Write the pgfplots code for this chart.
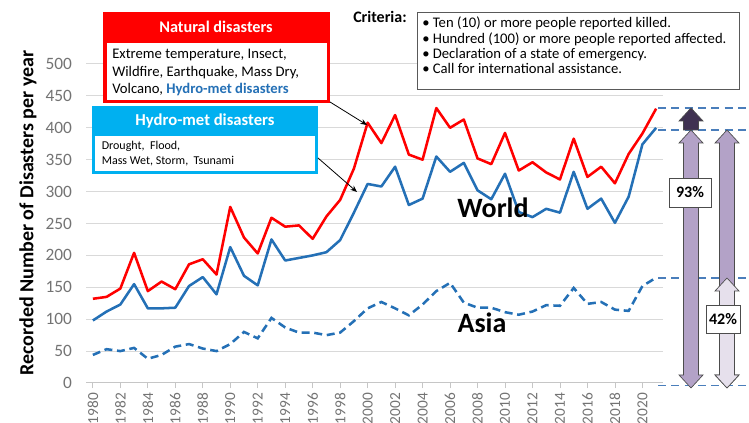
\documentclass[border=0pt]{standalone}
\usepackage{pgfplots}
\pgfplotsset{compat=1.18}
\usepackage{pgfplotstable}
\usepackage{fontspec}
\setmainfont{Carlito}
\usetikzlibrary{arrows.meta}

\definecolor{natred}{HTML}{FF0000}
\definecolor{hydblue}{HTML}{2470B6}
\definecolor{cyanhd}{HTML}{00B0F0}
\definecolor{tickgray}{HTML}{737373}
\definecolor{gridgray}{HTML}{D9D9D9}
\definecolor{purp}{HTML}{B3A2C7}
\definecolor{darkpurp}{HTML}{3F3151}
\definecolor{palepurp}{HTML}{E6E0EC}
\definecolor{dashblue}{HTML}{4A7EBB}

% recorded disasters per year: natural (world), hydro-met (world), hydro-met (asia)
\pgfplotstableread{
year natural hydro asia
1980 132  98  44
1981 135 112  53
1982 148 123  50
1983 204 155  55
1984 144 117  38
1985 159 117  44
1986 147 118  57
1987 186 152  61
1988 194 166  54
1989 170 139  50
1990 276 213  61
1991 228 168  80
1992 203 153  70
1993 259 225 102
1994 245 192  87
1995 247 196  79
1996 226 200  79
1997 261 205  75
1998 287 224  79
1999 336 267  97
2000 408 312 117
2001 376 308 127
2002 420 339 117
2003 358 279 106
2004 350 289 123
2005 431 355 144
2006 400 331 157
2007 413 345 126
2008 352 302 118
2009 343 288 118
2010 392 328 111
2011 333 268 107
2012 346 260 112
2013 330 273 122
2014 319 267 121
2015 383 331 149
2016 323 273 124
2017 339 289 127
2018 313 251 115
2019 359 292 113
2020 391 374 152
2021 430 400 165
}\disasters

% block double arrow, pixel units: x, top tip, bottom tip, fill
\newcommand{\dblarrow}[4]{%
  \filldraw[fill=#4, draw=gray!60!black, line width=0.5pt]
    (#1,#2) -- (#1+12,#2+13) -- (#1+7.5,#2+13) -- (#1+7.5,#3-13) -- (#1+12,#3-13)
    -- (#1,#3) -- (#1-12,#3-13) -- (#1-7.5,#3-13) -- (#1-7.5,#2+13) -- (#1-12,#2+13) -- cycle;}

\begin{document}
\begin{tikzpicture}
\useasboundingbox (0,0) rectangle (561.75pt,317.25pt);
\begin{axis}[
    at={(64.5pt,30pt)}, anchor=south west,
    scale only axis, width=432.75pt, height=239.25pt,
    xmin=1979.5, xmax=2021.5, ymin=0, ymax=500,
    xtick={1980,1982,...,2020},
    minor x tick num=3,
    ytick={0,50,...,500},
    axis x line*=bottom, axis y line*=left,
    y axis line style={draw=none},
    x axis line style={draw=gray!45, line width=0.75pt},
    ymajorgrids, grid style={draw=gridgray, line width=0.75pt},
    ytick style={draw=none},
    xtick style={draw=gray!45, line width=0.6pt},
    tick align=outside,
    major tick length=4pt, minor tick length=4pt,
    yticklabel style={font=\fontsize{13}{15}\selectfont, text=tickgray, xshift=-3pt},
    xticklabel style={font=\fontsize{11.5}{13}\selectfont, text=tickgray, rotate=90, anchor=east},
    /pgf/number format/1000 sep={},
    /pgf/number format/assume math mode=true,
    no markers, clip=false,
]
\addplot[natred, line width=1.9pt, line join=round] table[x=year, y=natural] {\disasters};
\addplot[hydblue, line width=1.9pt, line join=round] table[x=year, y=hydro] {\disasters};
\addplot[hydblue, line width=1.9pt, dash pattern=on 6pt off 3.5pt] table[x=year, y=asia] {\disasters};
\end{axis}

\begin{scope}[x=0.75pt, y=-0.75pt, shift={(0pt,317.25pt)}]
  % y label
  \node[rotate=90, font=\bfseries\fontsize{15}{17}\selectfont] at (28,213) {Recorded Number of Disasters per year};

  % series labels
  \node[font=\bfseries\fontsize{21}{24}\selectfont] at (493,208) {World};
  \node[font=\bfseries\fontsize{21}{24}\selectfont] at (482,323) {Asia};

  % natural disasters box
  \fill[natred] (103,12) rectangle (330,103);
  \fill[white] (107,43) rectangle (327,100.5);
  \node[font=\bfseries\fontsize{12.2}{14}\selectfont, text=white] at (216,27) {Natural disasters};
  \begin{scope}[every node/.style={anchor=base west, inner sep=0, font=\fontsize{11}{13}\selectfont}]
    \node at (112,59) {Extreme temperature, Insect,};
    \node at (112,76.5) {Wildfire, Earthquake, Mass Dry,};
    \node at (112,93.5) {Volcano, \textcolor{hydblue}{\bfseries Hydro-met disasters}};
  \end{scope}

  % hydro-met box
  \fill[cyanhd] (92,106) rectangle (318,174);
  \fill[white] (95,136.5) rectangle (315,171.5);
  \node[font=\bfseries\fontsize{12.5}{14}\selectfont, text=white] at (205,121) {Hydro-met disasters};
  \begin{scope}[every node/.style={anchor=base west, inner sep=0, font=\fontsize{9}{11}\selectfont}]
    \node at (101.5,149.5) {Drought, \ Flood,};
    \node at (101.5,165) {Mass Wet, Storm, \ Tsunami};
  \end{scope}

  % pointers
  \draw[-{Stealth[length=5pt,width=4pt]}, line width=0.6pt] (330,102) -- (367,125);
  \draw[-{Stealth[length=5pt,width=4pt]}, line width=0.6pt] (318,158) -- (357,192);

  % criteria
  \node[anchor=base west, inner sep=0, font=\bfseries\fontsize{12}{14}\selectfont] at (353,23) {Criteria:};
  \draw[gray!70!black, line width=0.6pt, fill=white] (417,12.5) rectangle (739,89);
  \begin{scope}[every node/.style={anchor=base west, inner sep=0, font=\fontsize{11}{13}\selectfont}]
    \node at (422,28) {\textbullet\ Ten (10) or more people reported killed.};
    \node at (422,43.3) {\textbullet\ Hundred (100) or more people reported affected.};
    \node at (422,58.7) {\textbullet\ Declaration of a state of emergency.};
    \node at (422,74) {\textbullet\ Call for international assistance.};
  \end{scope}

  % reference levels
  \begin{scope}[dashblue, line width=1.1pt, dash pattern=on 6pt off 4pt]
    \draw (658,108) -- (749,108);
    \draw (658,130) -- (749,130);
    \draw (658,278) -- (749,278);
    \draw (658,385.5) -- (749,385.5);
  \end{scope}

  % growth arrows
  \dblarrow{691}{130}{388}{purp}
  \filldraw[fill=darkpurp, draw=gray!60!black, line width=0.5pt]
    (691,108) -- (703,121) -- (698.5,121) -- (698.5,130) -- (683.5,130) -- (683.5,121) -- (679,121) -- cycle;
  \dblarrow{727}{130}{388}{purp}
  \dblarrow{727}{278}{388}{palepurp}
  \node[draw=gray!60!black, fill=white, line width=0.6pt, minimum width=31.5pt, minimum height=21.75pt, inner sep=0,
        font=\bfseries\fontsize{12}{14}\selectfont] at (690,192.5) {93\%};
  \node[draw=gray!60!black, fill=white, line width=0.6pt, minimum width=25.5pt, minimum height=21pt, inner sep=0,
        font=\bfseries\fontsize{12}{14}\selectfont] at (723,319) {42\%};
\end{scope}
\end{tikzpicture}
\end{document}
